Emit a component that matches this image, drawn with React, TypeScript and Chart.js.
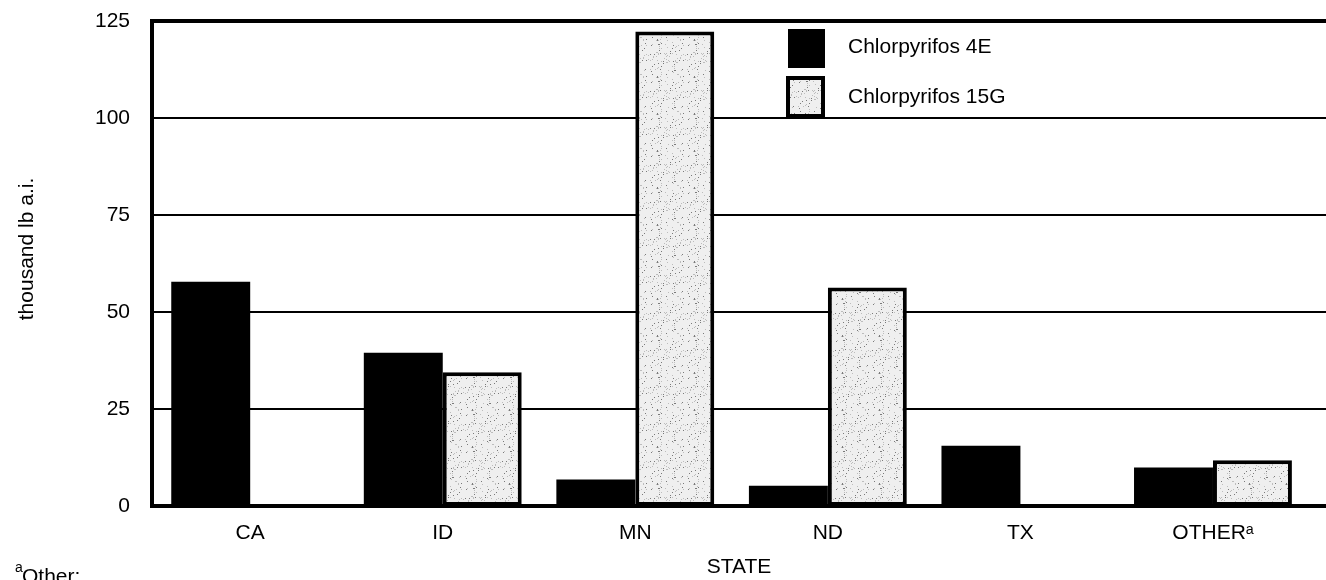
import React, { useEffect, useRef } from 'react';
import { Chart, registerables } from 'chart.js';

Chart.register(...registerables);

// ---- data ----
const categories = ['CA', 'ID', 'MN', 'ND', 'TX', 'OTHERᵃ'];
const chlorpyrifos4E = [57.8, 39.5, 6.8, 5.2, 15.5, 9.9];
const chlorpyrifos15G = [0, 34.5, 122.3, 56.3, 0, 11.8];
const yTicks = [0, 25, 50, 75, 100, 125];
const seriesNames = ['Chlorpyrifos 4E', 'Chlorpyrifos 15G'];
const yTitle = 'thousand lb a.i.';
const xTitle = 'STATE';
const footnoteMark = 'a';
const footnoteText = 'Other:';

const FONT = '"Liberation Sans", Arial, Helvetica, sans-serif';
const FS = 21;

function makeSpeckle(ctx: CanvasRenderingContext2D): CanvasPattern | string {
  const n = 37;
  const c = document.createElement('canvas');
  c.width = n;
  c.height = n;
  const g = c.getContext('2d');
  if (!g) return '#e8e8e8';
  g.fillStyle = '#efefef';
  g.fillRect(0, 0, n, n);
  for (let i = 0; i < n; i++) {
    for (let j = 0; j < n; j++) {
      const h = (i * i * 7 + j * j * 13 + i * j * 5 + i * 3) % 41;
      if (h === 0) {
        g.fillStyle = '#7a7a7a';
        g.fillRect(i, j, 1, 1);
      } else if (h === 7 || h === 19) {
        g.fillStyle = '#bdbdbd';
        g.fillRect(i, j, 1, 1);
      }
    }
  }
  return ctx.createPattern(c, 'repeat') || '#e8e8e8';
}

const decorPlugin = {
  id: 'decor',
  afterDraw(chart: any) {
    const { ctx, chartArea } = chart;
    ctx.save();
    ctx.fillStyle = '#000';

    // y-axis title
    ctx.save();
    ctx.translate(32.5, 249);
    ctx.rotate(-Math.PI / 2);
    ctx.font = `${FS}px ${FONT}`;
    ctx.textAlign = 'center';
    ctx.textBaseline = 'alphabetic';
    ctx.fillText(yTitle, 0, 0);
    ctx.restore();

    // legend (inside plot area)
    const lx = chartArea.left + 636;
    const ds = chart.data.datasets;
    ctx.fillStyle = ds[0].backgroundColor;
    ctx.fillRect(lx, 29, 37, 39);
    ctx.fillStyle = ds[1].backgroundColor;
    ctx.fillRect(lx - 2, 76, 39, 42);
    ctx.strokeStyle = '#000';
    ctx.lineWidth = 4;
    ctx.strokeRect(lx, 78, 35, 38);
    ctx.fillStyle = '#000';
    ctx.font = `${FS}px ${FONT}`;
    ctx.textAlign = 'left';
    ctx.textBaseline = 'middle';
    ctx.fillText(seriesNames[0], lx + 60, 47);
    ctx.fillText(seriesNames[1], lx + 60, 97);

    // footnote
    ctx.textBaseline = 'alphabetic';
    ctx.font = `14px ${FONT}`;
    ctx.fillText(footnoteMark, 15, 572);
    ctx.font = `${FS}px ${FONT}`;
    ctx.fillText(footnoteText, 22, 583);

    ctx.restore();
  },
};

export default function App() {
  const canvasRef = useRef<HTMLCanvasElement | null>(null);

  useEffect(() => {
    document.body.style.margin = '0';
    const canvas = canvasRef.current;
    if (!canvas) return;
    const ctx2d = canvas.getContext('2d') as CanvasRenderingContext2D;
    const speckle = makeSpeckle(ctx2d);

    Chart.defaults.font.family = FONT;

    const chart = new Chart(canvas, {
      type: 'bar',
      data: {
        datasets: [
          {
            label: seriesNames[0],
            data: chlorpyrifos4E.map((v, i) => ({ x: i, y: v })),
            backgroundColor: '#000000',
            borderWidth: 0,
            categoryPercentage: 0.82,
            barPercentage: 1,
          },
          {
            label: seriesNames[1],
            data: chlorpyrifos15G.map((v, i) => ({ x: i, y: v })),
            backgroundColor: speckle as any,
            borderColor: '#000000',
            borderWidth: 4,
            borderSkipped: false,
            categoryPercentage: 0.82,
            barPercentage: 1,
          },
        ],
      } as any,
      options: {
        responsive: false,
        animation: false,
        events: [],
        layout: { padding: { top: 21, left: 0, right: 0, bottom: 0 } },
        plugins: {
          legend: { display: false },
          tooltip: { enabled: false },
          title: { display: false },
        },
        scales: {
          x: {
            type: 'linear',
            position: 'bottom',
            min: -0.51,
            max: 5.587,
            offset: false,
            z: 1,
            grid: { display: false, drawTicks: false },
            border: { display: true, color: '#000', width: 4 },
            afterBuildTicks: (s: any) => {
              s.ticks = categories.map((_, i) => ({ value: i }));
            },
            afterFit: (s: any) => {
              s.height = 74;
              s.paddingLeft = 0;
              s.paddingRight = 0;
            },
            ticks: {
              callback: (v: any) => categories[v as number] ?? '',
              padding: 15,
              color: '#000',
              font: { size: FS, family: FONT },
              autoSkip: false,
              maxRotation: 0,
              minRotation: 0,
            },
            title: {
              display: true,
              text: xTitle,
              color: '#000',
              font: { size: FS, family: FONT },
              padding: { top: 0, bottom: 0 },
            },
          },
          y: {
            type: 'linear',
            min: 0,
            max: 125,
            afterBuildTicks: (s: any) => {
              s.ticks = yTicks.map((v) => ({ value: v }));
            },
            afterFit: (s: any) => {
              s.width = 152;
              s.paddingTop = 0;
              s.paddingBottom = 0;
            },
            grid: {
              color: '#000',
              lineWidth: (c: any) => (c.tick && c.tick.value === 125 ? 4 : c.tick && c.tick.value === 0 ? 0 : 2),
              drawTicks: false,
            },
            border: { display: true, color: '#000', width: 4 },
            ticks: {
              padding: 22,
              color: '#000',
              font: { size: FS, family: FONT },
            },
          },
        },
      } as any,
      plugins: [decorPlugin],
    });

    return () => {
      chart.destroy();
    };
  }, []);

  return (
    <div style={{ position: 'relative', width: 1326, height: 580 }}>
      <canvas ref={canvasRef} width={1326} height={580} style={{ display: 'block' }} />
    </div>
  );
}
